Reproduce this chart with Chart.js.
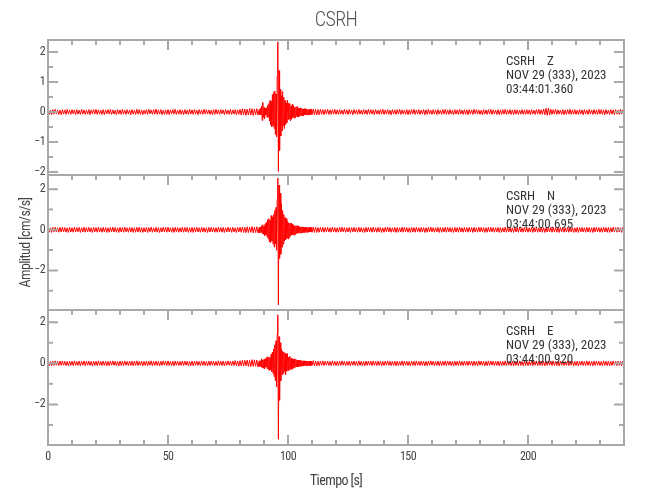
<!DOCTYPE html>
<html><head><meta charset="utf-8">
<script src="https://cdn.jsdelivr.net/npm/chart.js@4/dist/chart.umd.min.js"></script>
<style>html,body{margin:0;padding:0;background:#fff}canvas{display:block}</style>
</head><body>
<canvas id="c" width="650" height="500"></canvas>
<script>
const FONT = "'Roboto Condensed','DejaVu Sans Condensed',sans-serif";
const STATION = 'CSRH';
const components = ['Z', 'N', 'E'];
const dateLine = 'NOV 29 (333), 2023';
const startTimes = ['03:44:01.360', '03:44:00.695', '03:44:00.920'];
const xTitle = 'Tiempo [s]';
const yTitle = 'Amplitud [cm/s/s]';

// sampling grid of the traces (seconds)
const PRE_T0 = 0, PRE_DT = 0.5, BURST_T0 = 88, BURST_DT = 0.25, POST_T0 = 110.5, POST_DT = 0.5;

// ---- Z component (cm/s/s) ----
const zPre = [
.07,-.08,.06,-.09,.08,-.07,.09,-.06,.07,-.08,.06,-.09,.08,-.07,.07,-.08,.09,-.07,.06,-.08,
.08,-.06,.07,-.09,.08,-.07,.06,-.08,.09,-.07,.07,-.08,.06,-.07,.08,-.09,.07,-.06,.08,-.07,
.09,-.08,.07,-.07,.06,-.08,.08,-.09,.07,-.06,.08,-.07,.09,-.08,.07,-.07,.06,-.09,.08,-.07,
.07,-.08,.09,-.07,.06,-.08,.08,-.07,.07,-.09,.08,-.07,.06,-.08,.09,-.07,.08,-.08,.07,-.09,
.06,-.07,.08,-.08,.09,-.06,.07,-.08,.08,-.07,.1,-.08,.07,-.07,.08,-.09,.06,-.08,.07,-.08,
.08,-.09,.07,-.06,.08,-.07,.09,-.08,.06,-.07,.08,-.08,.07,-.09,.08,-.07,.06,-.08,.09,-.07,
.07,-.08,.08,-.07,.06,-.09,.08,-.07,.07,-.08,.09,-.06,.08,-.07,.07,-.08,.06,-.09,.08,-.08,
.09,-.07,.07,-.08,.08,-.06,.07,-.09,.08,-.07,.06,-.08,.09,-.08,.07,-.07,.08,-.09,.07,-.08,
.09,-.1,.11,-.09,.1,-.11,.09,-.1,.12,-.1,.11,-.12,.1,-.09,.11,-.1];
const zBurst = [
.08,-.1,.12,-.09, .2,-.28,.32,-.18, .15,-.22,.12,-.1, .14,-.18,.22,-.16,
.28,-.3,.38,-.42, .35,-.5,.58,-.45, .65,-.55,.7,-.75, .6,-.82,1.2,2.34,
-1.98,1.38,-1.28,.75, -.8,.55,-.62,.68, -.45,.5,-.55,.38, -.42,.3,-.36,.4,
-.25,.3,-.22,.28, -.3,.2,-.24,.25, -.18,.22,-.2,.15, -.19,.17,-.14,.18,
-.15,.12,-.16,.13, -.12,.14,-.11,.12, -.13,.1,-.12,.11, -.1,.11,-.09,.1,
-.1,.09,-.1,.08, -.09,.1,-.08,.09, -.09];
const zPost = [
.1,-.09,.09,-.1,.08,-.09,.09,-.08,.08,-.09,.08,-.07,.09,-.08,.07,-.08,.08,-.07,.09,-.08,
.07,-.08,.08,-.07,.06,-.08,.09,-.07,.07,-.08,.08,-.07,.07,-.09,.08,-.06,.07,-.08,.09,-.07,
.06,-.08,.08,-.07,.07,-.08,.09,-.07,.08,-.07,.07,-.09,.08,-.07,.06,-.08,.08,-.07,.09,-.08,
.07,-.07,.08,-.08,.06,-.09,.08,-.07,.07,-.08,.08,-.07,.09,-.08,.07,-.07,.06,-.08,.08,-.09,
.07,-.08,.08,-.07,.09,-.08,.07,-.07,.08,-.08,.06,-.07,.08,-.09,.07,-.08,.09,-.07,.06,-.08,
.08,-.07,.07,-.09,.08,-.07,.06,-.08,.08,-.07,.09,-.08,.07,-.08,.08,-.07,.06,-.09,.08,-.07,
.07,-.08,.09,-.07,.06,-.08,.08,-.08,.07,-.09,.08,-.07,.07,-.08,.09,-.06,.08,-.07,.07,-.08,
.06,-.09,.08,-.07,.07,-.08,.08,-.07,.09,-.08,.07,-.07,.06,-.08,.08,-.09,.07,-.08,.08,-.07,
.09,-.08,.07,-.07,.08,-.08,.07,-.09,.08,-.07,.07,-.08,.06,-.07,.08,-.08,.07,-.08,.08,-.07,
.07,-.09,.08,-.07,.06,-.08,.08,-.07,.09,-.08,.07,-.08,.1,-.09,.12,-.11,.13,-.1,.09,-.08,
.08,-.07,.09,-.08,.07,-.07,.06,-.08,.08,-.09,.07,-.08,.08,-.07,.09,-.08,.07,-.07,.08,-.08,
.06,-.08,.08,-.07,.07,-.09,.08,-.07,.06,-.08,.09,-.07,.07,-.08,.08,-.07,.07,-.08,.09,-.07,
.08,-.08,.07,-.09,.08,-.07,.06,-.08,.08,-.07,.07,-.09,.08,-.07,.06,-.08,.09,-.07,.07,-.08];

// ---- N component ----
const nPre = [
.11,-.12,.1,-.13,.12,-.1,.13,-.11,.1,-.12,.12,-.11,.13,-.1,.11,-.12,.1,-.13,.12,-.11,
.1,-.12,.13,-.11,.11,-.1,.12,-.13,.1,-.11,.13,-.12,.11,-.1,.12,-.11,.1,-.13,.12,-.1,
.11,-.12,.13,-.11,.1,-.12,.12,-.11,.11,-.13,.1,-.12,.12,-.1,.13,-.11,.11,-.12,.1,-.13,
.12,-.11,.11,-.12,.13,-.1,.1,-.12,.12,-.11,.11,-.13,.1,-.12,.12,-.11,.13,-.12,.11,-.13,
.1,-.11,.12,-.13,.11,-.1,.13,-.12,.1,-.11,.12,-.12,.11,-.13,.1,-.11,.13,-.1,.12,-.12,
.13,-.11,.1,-.12,.11,-.13,.12,-.1,.11,-.12,.1,-.11,.13,-.12,.12,-.1,.11,-.13,.1,-.12,
.12,-.13,.11,-.1,.12,-.11,.1,-.12,.13,-.11,.11,-.12,.1,-.13,.12,-.11,.12,-.1,.11,-.12,
.1,-.12,.13,-.11,.11,-.12,.12,-.13,.1,-.11,.13,-.1,.11,-.12,.12,-.11,.1,-.13,.12,-.11,
.13,-.12,.14,-.13,.12,-.14,.15,-.13,.14,-.12,.16,-.15,.14,-.13,.15,-.16];
const nBurst = [
.12,-.15,.14,-.12, .2,-.18,.25,-.22, .18,-.28,.3,-.25, .38,-.35,.5,-.45,
.55,-.6,.48,-.62, .7,-.55,.62,-.7, .75,-.85,.95,-.7, 1.1,-1.0,1.5,2.55,
-3.7,2.2,-1.4,1.8, -1.2,1.3,-.85,.95, -.7,.75,-.55,.6, -.5,.55,-.42,.4,
-.45,.35,-.38,.32, -.3,.33,-.26,.28, -.25,.22,-.26,.2, -.22,.2,-.18,.2,
-.17,.18,-.16,.15, -.16,.14,-.15,.15, -.14,.14,-.13,.12, -.13,.12,-.12,.13,
-.12,.11,-.12,.12, -.11,.12,-.11,.11, -.12];
const nPost = [
.14,-.13,.12,-.13,.11,-.12,.12,-.11,.13,-.12,.11,-.1,.12,-.11,.1,-.12,.13,-.11,.11,-.12,
.1,-.12,.12,-.11,.13,-.1,.11,-.12,.1,-.11,.12,-.13,.11,-.1,.12,-.11,.1,-.12,.13,-.11,
.11,-.12,.1,-.13,.12,-.11,.12,-.1,.11,-.12,.13,-.11,.1,-.12,.12,-.11,.11,-.13,.1,-.12,
.12,-.1,.13,-.11,.11,-.12,.1,-.11,.12,-.13,.11,-.12,.1,-.11,.13,-.12,.12,-.1,.11,-.12,
.1,-.13,.12,-.11,.11,-.12,.13,-.1,.1,-.12,.12,-.11,.11,-.13,.1,-.12,.12,-.11,.13,-.1,
.11,-.12,.1,-.11,.12,-.13,.11,-.12,.1,-.11,.13,-.12,.12,-.1,.11,-.12,.1,-.13,.12,-.11,
.11,-.12,.13,-.11,.1,-.12,.12,-.11,.11,-.12,.12,-.1,.11,-.13,.12,-.11,.1,-.12,.13,-.1,
.12,-.11,.11,-.13,.1,-.12,.13,-.11,.12,-.1,.11,-.12,.1,-.11,.12,-.13,.11,-.12,.1,-.11,
.13,-.12,.12,-.1,.11,-.12,.1,-.13,.12,-.11,.11,-.12,.13,-.11,.1,-.12,.12,-.11,.11,-.12,
.1,-.11,.12,-.13,.11,-.1,.13,-.12,.1,-.11,.12,-.12,.11,-.13,.1,-.11,.13,-.1,.12,-.12,
.13,-.11,.1,-.12,.11,-.13,.12,-.1,.11,-.12,.1,-.11,.13,-.12,.12,-.1,.11,-.13,.1,-.12,
.12,-.13,.11,-.1,.12,-.11,.1,-.12,.13,-.11,.11,-.12,.1,-.13,.12,-.11,.12,-.1,.11,-.12,
.1,-.12,.13,-.11,.11,-.12,.12,-.13,.1,-.11,.13,-.1,.11,-.12,.12,-.11,.1,-.13,.12,-.11];

// ---- E component ----
const ePre = [
.1,-.11,.09,-.12,.11,-.1,.12,-.09,.1,-.11,.11,-.1,.12,-.09,.1,-.11,.09,-.12,.11,-.1,
.1,-.11,.12,-.1,.09,-.1,.11,-.12,.1,-.09,.12,-.11,.1,-.09,.11,-.1,.09,-.12,.11,-.1,
.1,-.11,.12,-.1,.09,-.11,.11,-.1,.1,-.12,.09,-.11,.11,-.09,.12,-.1,.1,-.11,.09,-.12,
.11,-.1,.1,-.11,.12,-.09,.09,-.11,.11,-.1,.1,-.12,.11,-.1,.12,-.11,.09,-.1,.11,-.12,
.09,-.1,.11,-.12,.1,-.09,.12,-.11,.1,-.1,.11,-.11,.09,-.12,.1,-.1,.12,-.09,.11,-.11,
.12,-.1,.09,-.11,.1,-.12,.11,-.09,.1,-.11,.09,-.1,.12,-.11,.11,-.09,.1,-.12,.09,-.11,
.11,-.12,.1,-.09,.11,-.1,.09,-.11,.12,-.1,.1,-.11,.09,-.12,.11,-.1,.11,-.09,.1,-.11,
.09,-.11,.12,-.1,.1,-.11,.11,-.12,.09,-.1,.12,-.09,.1,-.11,.11,-.1,.13,-.12,.11,-.14,
.13,-.12,.15,-.13,.14,-.12,.16,-.15,.14,-.16,.18,-.15,.17,-.14,.16,-.18];
const eBurst = [
.12,-.15,.13,-.18, .22,-.2,.16,-.24, .2,-.26,.22,-.18, .28,-.25,.32,-.3,
.3,-.35,.28,-.32, .45,-.4,.55,-.5, .7,-.65,.9,-.85, 1.1,-1.15,1.45,2.37,
-3.7,1.3,-1.8,1.0, -.85,.7,-.55,.6, -.5,.55,-.4,.5, -.55,.45,-.38,.48,
-.35,.3,-.32,.35, -.28,.25,-.3,.22, -.25,.2,-.22,.22, -.18,.2,-.17,.16,
-.18,.15,-.16,.16, -.14,.15,-.13,.13, -.14,.12,-.13,.12, -.11,.12,-.12,.11,
-.12,.11,-.1,.11, -.11,.1,-.11,.1, -.1];
const ePost = [
.13,-.12,.11,-.12,.1,-.11,.11,-.1,.12,-.11,.1,-.09,.11,-.1,.09,-.11,.12,-.1,.1,-.11,
.09,-.11,.11,-.1,.12,-.09,.1,-.11,.09,-.1,.11,-.12,.1,-.09,.11,-.1,.09,-.11,.12,-.1,
.1,-.11,.09,-.12,.11,-.1,.11,-.09,.1,-.11,.12,-.1,.09,-.11,.11,-.1,.1,-.12,.09,-.11,
.11,-.09,.12,-.1,.1,-.11,.09,-.1,.11,-.12,.1,-.11,.09,-.1,.12,-.11,.11,-.09,.1,-.11,
.09,-.12,.11,-.1,.1,-.11,.12,-.09,.09,-.11,.11,-.1,.1,-.12,.09,-.11,.11,-.1,.12,-.09,
.1,-.11,.09,-.1,.11,-.12,.1,-.11,.09,-.1,.12,-.11,.11,-.09,.1,-.11,.09,-.12,.11,-.1,
.1,-.11,.12,-.1,.09,-.11,.11,-.1,.1,-.11,.11,-.09,.1,-.12,.11,-.1,.09,-.11,.12,-.09,
.11,-.1,.1,-.12,.09,-.11,.12,-.1,.11,-.09,.1,-.11,.09,-.1,.11,-.12,.1,-.11,.09,-.1,
.12,-.11,.11,-.09,.1,-.11,.09,-.12,.11,-.1,.1,-.11,.12,-.1,.09,-.11,.11,-.1,.1,-.11,
.09,-.1,.11,-.12,.1,-.09,.12,-.11,.09,-.1,.11,-.11,.1,-.12,.09,-.1,.12,-.09,.11,-.11,
.12,-.1,.09,-.11,.1,-.12,.11,-.09,.1,-.11,.09,-.1,.12,-.11,.11,-.09,.1,-.12,.09,-.11,
.11,-.12,.1,-.09,.11,-.1,.09,-.11,.12,-.1,.1,-.11,.09,-.12,.11,-.1,.11,-.09,.1,-.11,
.09,-.11,.12,-.1,.1,-.11,.11,-.12,.09,-.1,.12,-.09,.1,-.11,.11,-.1,.09,-.12,.11,-.1];

function toPoints(pre, burst, post) {
  const pts = [];
  pre.forEach((v, i) => pts.push({x: PRE_T0 + i * PRE_DT, y: v}));
  burst.forEach((v, i) => pts.push({x: BURST_T0 + i * BURST_DT, y: v}));
  post.forEach((v, i) => pts.push({x: POST_T0 + i * POST_DT, y: v}));
  return pts;
}

const X_MINOR = 10, X_MAJOR = 50;
const TXT = '#444';
const fmt = v => v < 0 ? '\u2212' + Math.abs(v) : String(v);

function yAxis(min, max, step, title) {
  return {
    type: 'linear', position: 'left', stack: 'traces', stackWeight: 1,
    min, max,
    grid: {display: false, drawTicks: false},
    border: {display: false},
    ticks: {stepSize: step, includeBounds: false, font: {family: FONT, size: 12}, color: TXT, padding: 3, callback: fmt},
    title: title ? {display: true, text: title, font: {family: FONT, size: 14}, color: TXT, padding: {top: 18, bottom: 0}} : {display: false},
    afterFit(s) { s.width = 48; }
  };
}

const narrowText = {
  id: 'narrowText',
  beforeDraw(chart) { chart.ctx.letterSpacing = '-0.6px'; }
};

const framePlugin = {
  id: 'frame',
  afterDatasetsDraw(chart) {
    const {ctx, chartArea: a} = chart;
    const x = chart.scales.x;
    const ids = ['yZ', 'yN', 'yE'];
    ctx.save();
    ctx.strokeStyle = '#a8a8a8';
    ctx.lineWidth = 2;
    ids.forEach((id, k) => {
      const s = chart.scales[id];
      const top = s.top, bot = s.bottom;
      ctx.strokeRect(a.left, top, a.right - a.left, bot - top);
      ctx.beginPath();
      for (let v = x.min; v <= x.max; v += X_MINOR) {
        const px = x.getPixelForValue(v);
        const len = (v % X_MAJOR === 0) ? 10 : 5;
        ctx.moveTo(px, top); ctx.lineTo(px, top + len);
        if (k === ids.length - 1) { ctx.moveTo(px, bot); ctx.lineTo(px, bot - len); }
      }
      const st = s.options.ticks.stepSize, half = st / 2;
      for (let v = Math.ceil(s.min / half) * half; v <= s.max; v += half) {
        const py = s.getPixelForValue(v);
        const major = Math.abs(Math.round(v / st) * st - v) < 1e-9;
        const len = major ? 10 : 5;
        ctx.moveTo(a.left, py); ctx.lineTo(a.left + len, py);
        ctx.moveTo(a.right, py); ctx.lineTo(a.right - len, py);
      }
      ctx.stroke();
      ctx.fillStyle = '#333';
      ctx.letterSpacing = '0px';
      ctx.font = '13px ' + FONT;
      ctx.textBaseline = 'middle';
      ctx.textAlign = 'left';
      const tx = a.right - 118;
      [STATION + '    ' + components[k], dateLine, startTimes[k]].forEach((t, j) => ctx.fillText(t, tx, top + 22 + j * 14));
    });
    ctx.restore();
  }
};

const ds = (data, axis) => ({data, yAxisID: axis, borderColor: '#ff0000', borderWidth: 1, pointRadius: 0, tension: 0, fill: false});

new Chart(document.getElementById('c'), {
  type: 'line',
  data: {datasets: [
    ds(toPoints(zPre, zBurst, zPost), 'yZ'),
    ds(toPoints(nPre, nBurst, nPost), 'yN'),
    ds(toPoints(ePre, eBurst, ePost), 'yE')
  ]},
  options: {
    responsive: false, animation: false, devicePixelRatio: 1,
    layout: {padding: {left: 0, right: 26, top: 0, bottom: 0}},
    plugins: {
      legend: {display: false}, tooltip: {enabled: false},
      title: {display: true, fullSize: false, text: STATION, font: {family: FONT, size: 20, weight: '300'}, color: '#555', padding: {top: 9, bottom: 7}}
    },
    scales: {
      x: {
        type: 'linear', min: 0, max: 240, position: 'bottom',
        grid: {display: false, drawTicks: false}, border: {display: false},
        ticks: {stepSize: X_MAJOR, includeBounds: false, font: {family: FONT, size: 12}, color: TXT, padding: 5, maxRotation: 0},
        title: {display: true, text: xTitle, font: {family: FONT, size: 14}, color: TXT, padding: {top: 0, bottom: 10}},
        afterFit(s) { s.height = 55; }
      },
      yE: yAxis(-3.98, 2.6, 2, null),
      yN: yAxis(-3.95, 2.7, 2, yTitle),
      yZ: yAxis(-2.1, 2.4, 1, null)
    }
  },
  plugins: [narrowText, framePlugin]
});
</script>
</body></html>
